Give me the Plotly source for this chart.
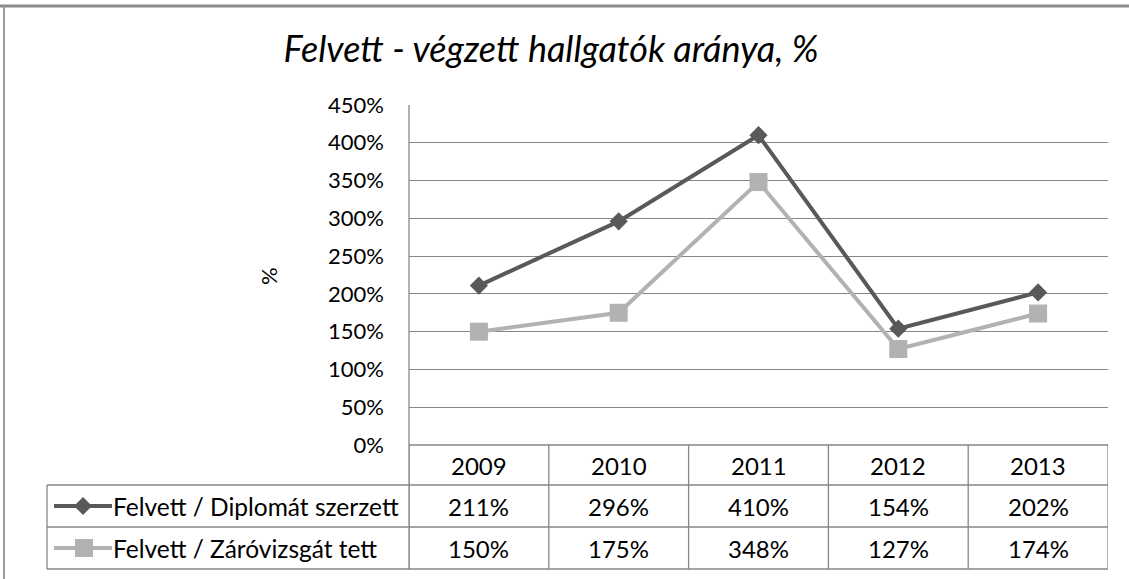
import plotly.graph_objects as go

# ---- data ----
years = ["2009", "2010", "2011", "2012", "2013"]
diplomat = [2.11, 2.96, 4.10, 1.54, 2.02]
zarovizsga = [1.50, 1.75, 3.48, 1.27, 1.74]
series_names = ["Felvett / Diplomát szerzett", "Felvett / Záróvizsgát tett"]
title_text = "Felvett - végzett hallgatók aránya, %"
y_title = "%"

# ---- styling ----
W, H = 1129, 579
L, R, T, B = 409, 1108, 105, 445
dark = "#595959"
light = "#b2b2b2"
grid = "#868686"
font = "Lato, Carlito, Calibri, sans-serif"


def px(x):
    return (x - L) / (R - L)


def py(y):
    return (B - y) / (B - T)


fig = go.Figure()
fig.add_trace(go.Scatter(x=years, y=diplomat, mode="lines+markers", name=series_names[0],
                         line=dict(color=dark, width=4),
                         marker=dict(symbol="diamond", size=14, color=dark)))
fig.add_trace(go.Scatter(x=years, y=zarovizsga, mode="lines+markers", name=series_names[1],
                         line=dict(color=light, width=4),
                         marker=dict(symbol="square", size=18, color=light)))

shapes = []
annotations = []

# outer chart border (left + top)
shapes.append(dict(type="line", xref="paper", yref="paper", x0=px(0), x1=px(W), y0=py(6), y1=py(6),
                   line=dict(color="#8a8a8a", width=3)))
shapes.append(dict(type="line", xref="paper", yref="paper", x0=px(4), x1=px(4), y0=py(6), y1=py(H),
                   line=dict(color="#9a9a9a", width=2)))

# data table geometry
row_tops = [B, 485, 527, 569]
n = len(years)
# left axis line extending through table
shapes.append(dict(type="line", xref="paper", yref="paper", x0=0, x1=0, y0=1, y1=py(row_tops[3]),
                   line=dict(color=grid, width=1.3)))
# column separators
for i in range(n + 1):
    shapes.append(dict(type="line", xref="x", yref="paper", x0=i - 0.5, x1=i - 0.5,
                       y0=py(row_tops[0]), y1=py(row_tops[3]), line=dict(color=grid, width=1.3)))
# horizontal lines
shapes.append(dict(type="line", xref="paper", yref="paper", x0=0, x1=1, y0=0, y1=0,
                   line=dict(color=grid, width=1.3)))
for yy in row_tops[1:]:
    shapes.append(dict(type="line", xref="paper", yref="paper", x0=px(47), x1=1, y0=py(yy), y1=py(yy),
                       line=dict(color=grid, width=1.3)))
shapes.append(dict(type="line", xref="paper", yref="paper", x0=px(47), x1=px(47),
                   y0=py(row_tops[1]), y1=py(row_tops[3]), line=dict(color=grid, width=1.3)))

tfont = dict(family=font, size=24, color="#000000")
# header years
for i, yr in enumerate(years):
    annotations.append(dict(x=i, xref="x", y=py((row_tops[0] + row_tops[1]) / 2), yref="paper",
                            text=yr, showarrow=False, font=tfont, xanchor="center", yanchor="middle"))
# data rows
for r, (vals, name, col, sym) in enumerate([(diplomat, series_names[0], dark, "diamond"),
                                            (zarovizsga, series_names[1], light, "square")]):
    yc = (row_tops[r + 1] + row_tops[r + 2]) / 2
    for i, v in enumerate(vals):
        annotations.append(dict(x=i, xref="x", y=py(yc), yref="paper", text=f"{v:.0%}",
                                showarrow=False, font=tfont, xanchor="center", yanchor="middle"))
    annotations.append(dict(x=px(111), xref="paper", y=py(yc), yref="paper", text=name,
                            showarrow=False, font=dict(family=font, size=24.5, color="#000"),
                            xanchor="left", yanchor="middle"))
    # legend key
    shapes.append(dict(type="line", xref="paper", yref="paper", x0=px(54), x1=px(112),
                       y0=py(yc), y1=py(yc), line=dict(color=col, width=4)))
    if sym == "diamond":
        d = 9
        path = (f"M {px(83 - d)},{py(yc)} L {px(83)},{py(yc - d)} L {px(83 + d)},{py(yc)} "
                f"L {px(83)},{py(yc + d)} Z")
        shapes.append(dict(type="path", xref="paper", yref="paper", path=path,
                           fillcolor=col, line=dict(color=col, width=0)))
    else:
        s = 9
        shapes.append(dict(type="rect", xref="paper", yref="paper", x0=px(84 - s), x1=px(84 + s),
                           y0=py(yc - s), y1=py(yc + s), fillcolor=col, line=dict(width=0)))

# y axis title
annotations.append(dict(x=px(268), xref="paper", y=py(276), yref="paper", text=y_title,
                        textangle=-90, showarrow=False, font=dict(family=font, size=22, color="#000"),
                        xanchor="center", yanchor="middle"))

fig.update_layout(
    width=W, height=H,
    margin=dict(l=L, r=W - R, t=T, b=H - B, pad=0),
    paper_bgcolor="white", plot_bgcolor="white",
    showlegend=False,
    title=dict(text=title_text, x=551 / W, xanchor="center", y=1 - 49 / H, yanchor="middle",
               font=dict(family=font, size=36, color="#000", style="italic")),
    xaxis=dict(type="category", range=[-0.5, n - 0.5], showticklabels=False, showgrid=False,
               zeroline=False, showline=False, ticks="", fixedrange=True),
    yaxis=dict(range=[0, 4.5], dtick=0.5, tick0=0, tickformat=".0%", showgrid=True,
               gridcolor=grid, gridwidth=1.3, zeroline=False, showline=False, ticks="",
               ticklabelstandoff=24, tickfont=dict(family=font, size=22, color="#000")),
    shapes=shapes, annotations=annotations,
)

fig.write_html("out.html", config={"displayModeBar": False},
               post_script="document.body.style.margin='0';document.body.style.overflow='hidden';")
